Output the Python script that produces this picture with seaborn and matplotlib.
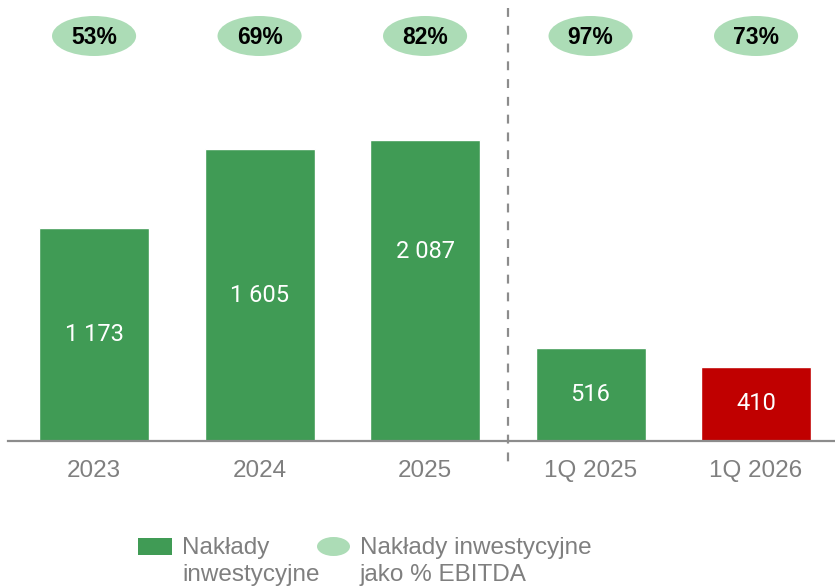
import matplotlib
matplotlib.use("Agg")
import matplotlib.pyplot as plt
import seaborn as sns
from matplotlib.patches import Ellipse, Rectangle

# --- data ---
categories = ["2023", "2024", "2025", "1Q 2025", "1Q 2026"]
capex_labels = ["1 173", "1 605", "2 087", "516", "410"]
# visual bar heights (the chart uses separate scales for years and quarters)
bar_heights = [213, 292, 301, 93, 74]
ebitda_share = ["53%", "69%", "82%", "97%", "73%"]
bar_colors = ["#409b55", "#409b55", "#409b55", "#409b55", "#c00000"]
label_pos = [0.5, 0.5, 0.63, 0.5, 0.5]
legend_labels = ["Nakłady\ninwestycyjne", "Nakłady inwestycyjne\njako % EBITDA"]

GREEN = "#409b55"
LIGHT = "#acdcb6"
GRAY = "#7f7f7f"

sns.set_style("white")
plt.rcParams["font.family"] = ["Liberation Sans", "DejaVu Sans"]

W, H = 835, 587
fig = plt.figure(figsize=(W / 100, H / 100), dpi=100)
ax = fig.add_axes([8 / W, 146 / H, 827 / W, 441 / H])

sns.barplot(x=categories, y=bar_heights, hue=categories, palette=bar_colors,
            width=0.665, saturation=1, legend=False, ax=ax)

ax.set_xlim(-0.52, 4.477)
ax.set_ylim(0, 441)
ax.set_xlabel("")
ax.set_ylabel("")
ax.set_yticks([])
ax.tick_params(axis="x", length=0, pad=14, labelsize=17.5, labelcolor=GRAY)
for s in ["top", "left", "right"]:
    ax.spines[s].set_visible(False)
ax.spines["bottom"].set_color("#8c8c8c")
ax.spines["bottom"].set_linewidth(1.6)

# values inside bars
for i, (h, lab) in enumerate(zip(bar_heights, capex_labels)):
    ax.text(i, h * label_pos[i], lab, ha="center", va="center", color="white",
            fontsize=17, family=["Roboto", "DejaVu Sans"])

# capex as % of EBITDA in ellipses
for i, pct in enumerate(ebitda_share):
    ax.add_patch(Ellipse((i, 405), width=0.508, height=40, facecolor=LIGHT,
                         edgecolor="none", clip_on=False))
    ax.text(i, 404, pct, ha="center", va="center", color="black", fontsize=16.5,
            fontweight="bold")

# dashed separator between years and quarters
ax.plot([2.5, 2.5], [433, -29], color="#8c8c8c", lw=1.6, ls=(0, (4, 4)),
        clip_on=False)

# legend drawn by hand (handles line up with the first text line)
fig.patches.append(Rectangle((138 / W, 1 - 555 / H), 34 / W, 17 / H,
                             facecolor=GREEN, edgecolor="none",
                             transform=fig.transFigure, figure=fig))
fig.patches.append(Ellipse((333.5 / W, 1 - 546.5 / H), 33 / W, 19 / H,
                           facecolor=LIGHT, edgecolor="none",
                           transform=fig.transFigure, figure=fig))
for x0, lab in zip([182, 360], legend_labels):
    fig.text(x0 / W, 1 - 537 / H, lab, ha="left", va="top", color=GRAY,
             fontsize=17.5, linespacing=1.3)

fig.savefig("out.png", dpi=100)
